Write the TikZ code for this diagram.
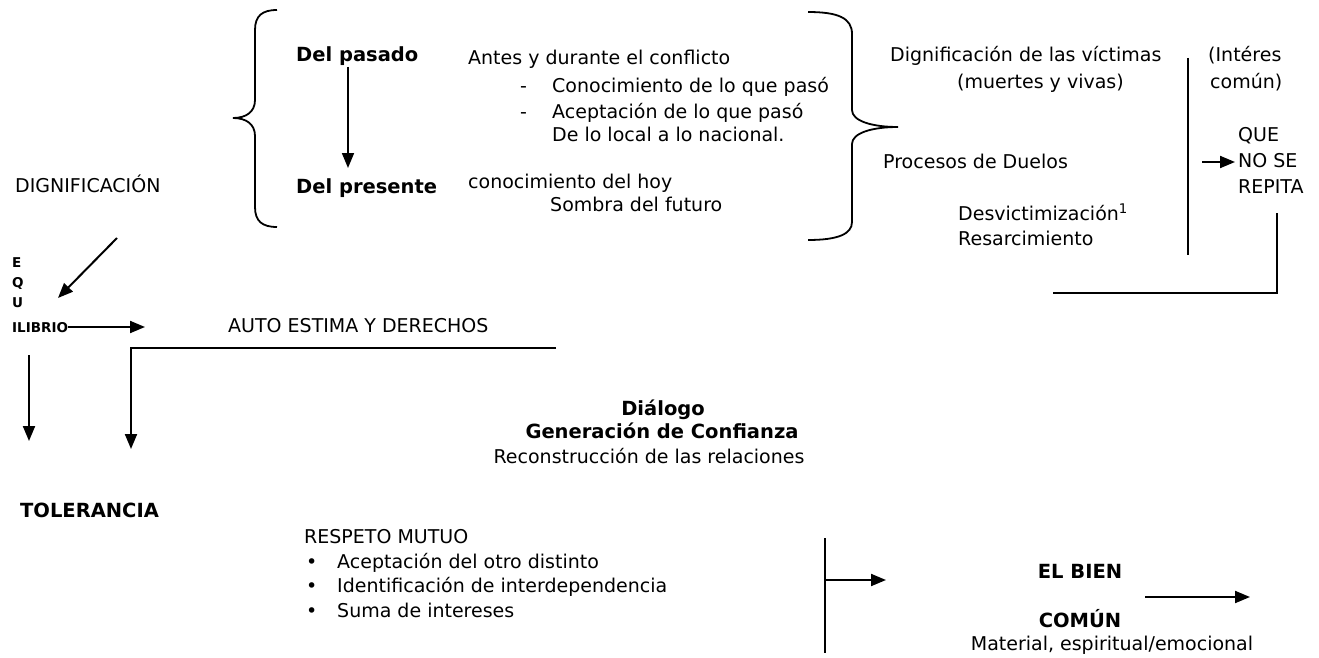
\documentclass[tikz,border=0pt]{standalone}
\usepackage{fontspec}
\setmainfont{DejaVu Sans}
\usetikzlibrary{arrows.meta}
\begin{document}
\begin{tikzpicture}[x=1pt,y=-1pt,
  txt/.style={anchor=west,inner sep=0pt,font=\fontsize{19}{23}\selectfont,text height=14pt,text depth=4pt},
  ctxt/.style={txt,anchor=center},
  bld/.style={font=\fontsize{19.5}{23}\selectfont\bfseries},
  smallb/.style={txt,font=\fontsize{13.5}{15}\selectfont\bfseries,text height=10pt,text depth=0pt},
  ln/.style={line width=2pt},
  brace/.style={line width=1.8pt},
  arr/.style={ln,-{Triangle[length=15pt,width=12pt]}},
]
\useasboundingbox (0,0) rectangle (1319,658);

% ---------- top block ----------
\node[txt,bld] (pasado) at (296,57) {Del pasado};
\node[txt,bld] (presente) at (296,188) {Del presente};
\node[txt] (antes) at (468,60) {Antes y durante el conflicto};
\node[txt] (dash1) at (520,88) {-};
\node[txt] (conoc) at (552,88) {Conocimiento de lo que pasó};
\node[txt] (dash2) at (520,113) {-};
\node[txt] (acept) at (552,113) {Aceptación de lo que pasó};
\node[txt] (local) at (552,137) {De lo local a lo nacional.};
\node[txt] (hoy) at (468,183) {conocimiento del hoy};
\node[txt] (sombra) at (550,206) {Sombra del futuro};

\coordinate (a1s) at (348,67);
\coordinate (a1e) at (348,168);
\draw[arr,line width=1.7pt] (a1s) -- (a1e);

% left brace
\draw[brace] (277,10) .. controls (262,10) and (255,16) .. (255,30) -- (255,100)
  .. controls (255,112) and (246,118) .. (233,118)
  .. controls (246,118) and (255,124) .. (255,136) -- (255,207)
  .. controls (255,221) and (262,227) .. (277,227);
% right brace
\draw[brace] (808,12) .. controls (838,12) and (852,18) .. (852,34) -- (852,110)
  .. controls (852,121) and (872,127) .. (898,127)
  .. controls (872,127) and (852,133) .. (852,144) -- (852,222)
  .. controls (852,234) and (838,240) .. (808,240);

% ---------- right block ----------
\node[txt] (dignv) at (890,57) {Dignificación de las víctimas};
\node[txt] (muertes) at (957,84) {(muertes y vivas)};
\node[txt] (duelos) at (883,163) {Procesos de Duelos};
\node[txt] (desv) at (958,215) {Desvictimización\textsuperscript{1}};
\node[txt] (resarc) at (958,240) {Resarcimiento};
\node[txt] (interes) at (1208,57) {(Intéres};
\node[txt] (comun1) at (1210,84) {común)};
\node[txt] (que) at (1238,137) {QUE};
\node[txt] (nose) at (1238,162) {NO SE};
\node[txt] (repita) at (1238,188) {REPITA};

\coordinate (v1t) at (1188,58);
\coordinate (v1b) at (1188,255);
\draw[ln] (v1t) -- (v1b);
\coordinate (qa) at (1202,162);
\draw[arr] (qa) -- ([xshift=-3pt]nose.west);
\coordinate (v2t) at (1277,213);
\coordinate (v2b) at (1277,293);
\coordinate (h2l) at (1053,293);
\draw[ln] (v2t) -- (v2b) -- (h2l);

% ---------- left block ----------
\node[txt] (dign) at (15,187) {DIGNIFICACIÓN};
\node[smallb] (E) at (12,262) {E};
\node[smallb] (Q) at (12,282) {Q};
\node[smallb] (U) at (12,302) {U};
\node[smallb] (ilibrio) at (12,327) {ILIBRIO};
\node[txt] (auto) at (228,327) {AUTO ESTIMA Y DERECHOS};
\node[txt,bld] (toler) at (20,512) {TOLERANCIA};

\coordinate (d1) at (117,238);
\coordinate (d2) at (58,298);
\draw[arr] (d1) -- (d2);
\coordinate (ia) at (145,327);
\draw[arr] (ilibrio.east) -- (ia);
\coordinate (l1) at (29,355);
\coordinate (l2) at (29,441);
\draw[arr] (l1) -- (l2);
\coordinate (h1r) at (556,348);
\coordinate (h1l) at (131,348);
\coordinate (h1d) at (131,449);
\draw[arr] (h1r) -- (h1l) -- (h1d);

% ---------- middle / bottom ----------
\node[ctxt,bld] (dialogo) at (663,410) {Diálogo};
\node[ctxt,bld] (confianza) at (662,433) {Generación de Confianza};
\node[ctxt] (reconst) at (649,458) {Reconstrucción de las relaciones};

\node[txt] (respeto) at (304,538) {RESPETO MUTUO};
\node[txt] (b1) at (306,563) {•};
\node[txt] (t1) at (337,563) {Aceptación del otro distinto};
\node[txt] (b2) at (306,587) {•};
\node[txt] (t2) at (337,587) {Identificación de interdependencia};
\node[txt] (b3) at (306,612) {•};
\node[txt] (t3) at (337,612) {Suma de intereses};

\coordinate (v3t) at (825,538);
\coordinate (v3b) at (825,653);
\draw[ln] (v3t) -- (v3b);
\coordinate (v3m) at (825,580);
\coordinate (a3e) at (886,580);
\draw[arr] (v3m) -- (a3e);

\node[ctxt,bld] (elbien) at (1080,573) {EL BIEN};
\node[ctxt,bld] (comun) at (1080,622) {COMÚN};
\node[ctxt] (material) at (1112,645) {Material, espiritual/emocional};
\coordinate (a4s) at (1145,597);
\coordinate (a4e) at (1250,597);
\draw[arr] (a4s) -- (a4e);
\end{tikzpicture}
\end{document}
